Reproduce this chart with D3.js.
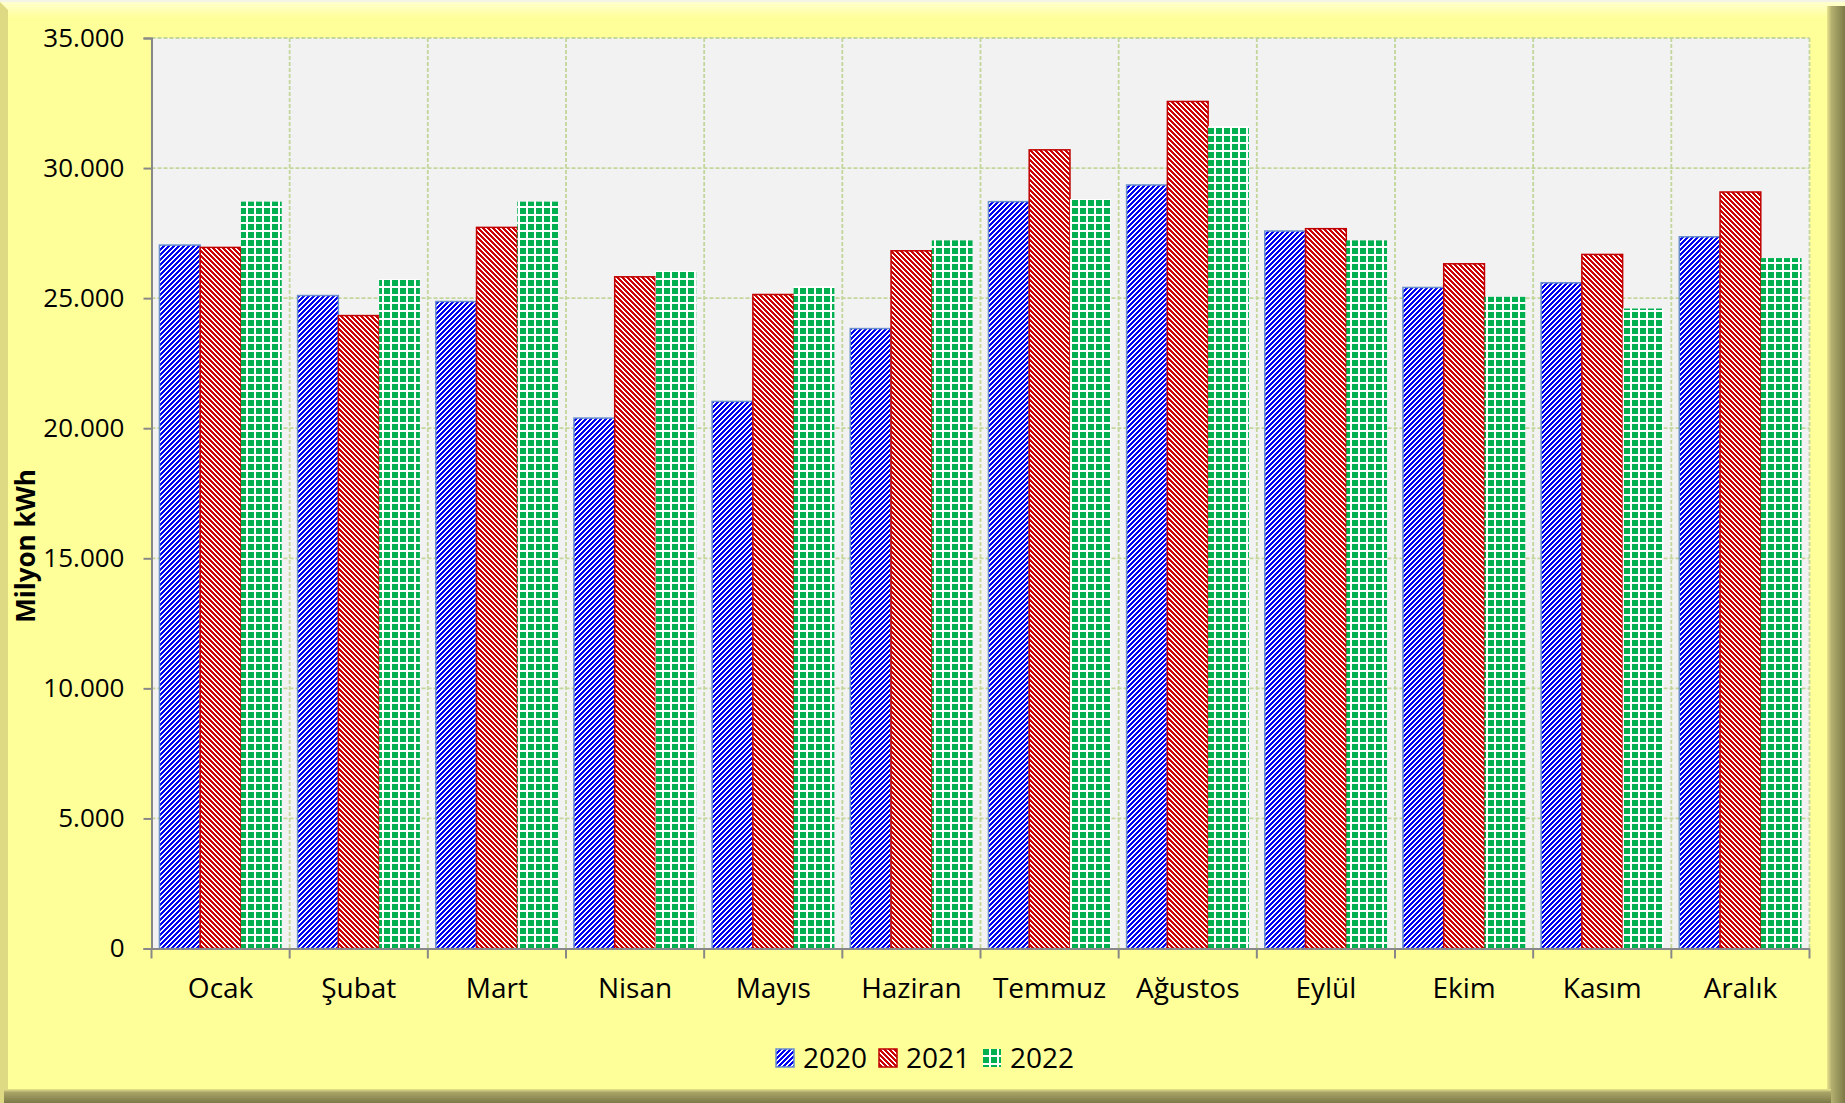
<!DOCTYPE html>
<html>
<head>
<meta charset="utf-8">
<script src="https://cdn.jsdelivr.net/npm/d3@7"></script>
<style>
  body { margin: 0; background: #FFFF99; }
  svg { display: block; }
</style>
</head>
<body>
<svg id="chart"></svg>
<script>
// months, in order
var months = ["Ocak", "Şubat", "Mart", "Nisan", "Mayıs", "Haziran", "Temmuz", "Ağustos", "Eylül", "Ekim", "Kasım", "Aralık"];
var years = ["2020", "2021", "2022"];
// Milyon kWh
var v2020 = [27040, 25100, 24870, 20390, 21030, 23830, 28710, 29350, 27580, 25410, 25590, 27360];
var v2021 = [26950, 24330, 27720, 25820, 25140, 26820, 30700, 32560, 27670, 26320, 26680, 29080];
var v2022 = [28710, 25730, 28710, 26050, 25460, 27220, 28810, 31610, 27220, 25050, 24600, 26540];
var yTicks = [0, 5000, 10000, 15000, 20000, 25000, 30000, 35000];

var W = 1845, H = 1103;
// plot box (note: "top" is taken by window.top)
var pLeft = 151.5, pRight = 1809.5, pTop = 38, pBottom = 948.5;

var svg = d3.select("#chart").attr("width", W).attr("height", H);
var defs = svg.append("defs");

// frame gradients
var g1 = defs.append("linearGradient").attr("id", "topBev").attr("x1", 0).attr("y1", 0).attr("x2", 0).attr("y2", 1);
g1.append("stop").attr("offset", "0").attr("stop-color", "#FFFFD6");
g1.append("stop").attr("offset", "1").attr("stop-color", "#FFFF99");
var g2 = defs.append("linearGradient").attr("id", "rightBev").attr("x1", 0).attr("y1", 0).attr("x2", 1).attr("y2", 0);
g2.append("stop").attr("offset", "0").attr("stop-color", "#E8E48C");
g2.append("stop").attr("offset", "0.25").attr("stop-color", "#B4B070");
g2.append("stop").attr("offset", "1").attr("stop-color", "#7C7947");
var g3 = defs.append("linearGradient").attr("id", "botBev").attr("x1", 0).attr("y1", 0).attr("x2", 0).attr("y2", 1);
g3.append("stop").attr("offset", "0").attr("stop-color", "#E8E48C");
g3.append("stop").attr("offset", "0.25").attr("stop-color", "#A8A467");
g3.append("stop").attr("offset", "1").attr("stop-color", "#7C7947");

// bar fill patterns
var pBlue = defs.append("pattern").attr("id", "pat2020").attr("patternUnits", "userSpaceOnUse")
  .attr("width", 5).attr("height", 5);
pBlue.append("rect").attr("width", 5).attr("height", 5).attr("fill", "#fff");
pBlue.append("path").attr("d", "M-1,6 L6,-1 M-1,1 L1,-1 M4,6 L6,4")
  .attr("stroke", "#0000F0").attr("stroke-width", 2.3).attr("shape-rendering", "crispEdges");

var pRed = defs.append("pattern").attr("id", "pat2021").attr("patternUnits", "userSpaceOnUse")
  .attr("width", 5).attr("height", 5);
pRed.append("rect").attr("width", 5).attr("height", 5).attr("fill", "#fff");
pRed.append("path").attr("d", "M-1,-1 L6,6 M4,-1 L6,1 M-1,4 L1,6")
  .attr("stroke", "#CC0000").attr("stroke-width", 2.3).attr("shape-rendering", "crispEdges");

var pGreen = defs.append("pattern").attr("id", "pat2022").attr("patternUnits", "userSpaceOnUse")
  .attr("width", 8).attr("height", 8);
pGreen.append("rect").attr("width", 8).attr("height", 8).attr("fill", "#fff");
pGreen.append("rect").attr("width", 6).attr("height", 6).attr("fill", "#00B050");

// frame
svg.append("rect").attr("width", W).attr("height", H).attr("fill", "#FFFF99");
svg.append("rect").attr("width", W).attr("height", 18).attr("fill", "url(#topBev)");
svg.append("rect").attr("width", W).attr("height", 2).attr("fill", "#F4F4E6");
svg.append("path").attr("d", "M0,2 L8,10 L8," + H + " L0," + H + "Z").attr("fill", "#DEDA83");
svg.append("rect").attr("x", W - 18).attr("y", 6).attr("width", 18).attr("height", H).attr("fill", "url(#rightBev)");
svg.append("rect").attr("x", 4).attr("y", H - 14).attr("width", W - 18).attr("height", 14).attr("fill", "url(#botBev)");

// scales
var x0 = d3.scaleBand().domain(months).range([pLeft, pRight]).paddingInner(0.115).paddingOuter(0.0575);
var x1 = d3.scaleBand().domain(years).range([0, x0.bandwidth()]);
var y = d3.scaleLinear().domain([0, 35000]).range([pBottom, pTop]);

// plot area
svg.append("rect").attr("x", pLeft).attr("y", pTop).attr("width", pRight - pLeft).attr("height", pBottom - pTop).attr("fill", "#F2F2F2");

// gridlines
svg.append("g").selectAll("line").data(yTicks.slice(1)).enter().append("line")
  .attr("x1", pLeft).attr("x2", pRight)
  .attr("y1", function(d) { return y(d); }).attr("y2", function(d) { return y(d); })
  .attr("stroke", "#C3D69B").attr("stroke-width", 1.8).attr("stroke-dasharray", "4,2");
var step = x0.step();
svg.append("g").selectAll("line").data(d3.range(1, months.length + 1)).enter().append("line")
  .attr("x1", function(i) { return pLeft + i * step; }).attr("x2", function(i) { return pLeft + i * step; })
  .attr("y1", pTop).attr("y2", pBottom)
  .attr("stroke", "#C3D69B").attr("stroke-width", 1.8).attr("stroke-dasharray", "4,2");

// bars
var series = [
  { year: "2020", values: v2020, stroke: "#6A8FCB" },
  { year: "2021", values: v2021, stroke: "#C00000" },
  { year: "2022", values: v2022, stroke: "none" }
];
series.forEach(function(s) {
  svg.append("g").selectAll("rect").data(s.values).enter().append("rect")
    .attr("x", function(d, i) { return x0(months[i]) + x1(s.year); })
    .attr("y", function(d) { return y(d); })
    .attr("width", x1.bandwidth())
    .attr("height", function(d) { return y(0) - y(d); })
    .attr("fill", "url(#pat" + s.year + ")")
    .attr("stroke", s.stroke).attr("stroke-width", 1.5);
});

// axes
var yAxis = d3.axisLeft(y).tickValues(yTicks).tickSize(8).tickPadding(19)
  .tickFormat(function(d) { return d === 0 ? "0" : d3.format(",")(d).replace(/,/g, "."); });
var gy = svg.append("g").attr("transform", "translate(" + pLeft + ",0)").call(yAxis);
gy.select(".domain").attr("stroke", "#888").attr("stroke-width", 2);
gy.selectAll(".tick line").attr("stroke", "#888").attr("stroke-width", 2);
gy.selectAll("text").attr("font-family", "'Open Sans'").attr("font-size", 26).attr("fill", "#000");

var xAxis = d3.axisBottom(x0).tickSize(0).tickPadding(0);
var gx = svg.append("g").attr("transform", "translate(0," + pBottom + ")").call(xAxis);
gx.select(".domain").attr("stroke", "#888").attr("stroke-width", 2);
gx.selectAll("text").attr("font-family", "'Open Sans'").attr("font-size", 28).attr("fill", "#000")
  .attr("dy", null).attr("y", 49.5);
svg.append("g").selectAll("line").data(d3.range(0, months.length + 1)).enter().append("line")
  .attr("x1", function(i) { return pLeft + i * step; }).attr("x2", function(i) { return pLeft + i * step; })
  .attr("y1", pBottom).attr("y2", pBottom + 10)
  .attr("stroke", "#888").attr("stroke-width", 2);

// y title
svg.append("text").attr("transform", "translate(35,546) rotate(-90)")
  .attr("text-anchor", "middle").attr("font-family", "'Open Sans'").attr("font-weight", "bold")
  .attr("font-size", 26).text("Milyon kWh");

// legend
var legX = [776, 879, 983];
var leg = svg.append("g").selectAll("g").data(series).enter().append("g")
  .attr("transform", function(d, i) { return "translate(" + legX[i] + ",1049)"; });
leg.append("rect").attr("width", 18).attr("height", 18)
  .attr("fill", function(d) { return "url(#pat" + d.year + ")"; })
  .attr("stroke", function(d) { return d.stroke; }).attr("stroke-width", 1.5);
leg.append("text").attr("x", 27).attr("y", 19).attr("font-family", "'Open Sans'").attr("font-size", 28)
  .text(function(d) { return d.year; });
</script>
</body>
</html>
